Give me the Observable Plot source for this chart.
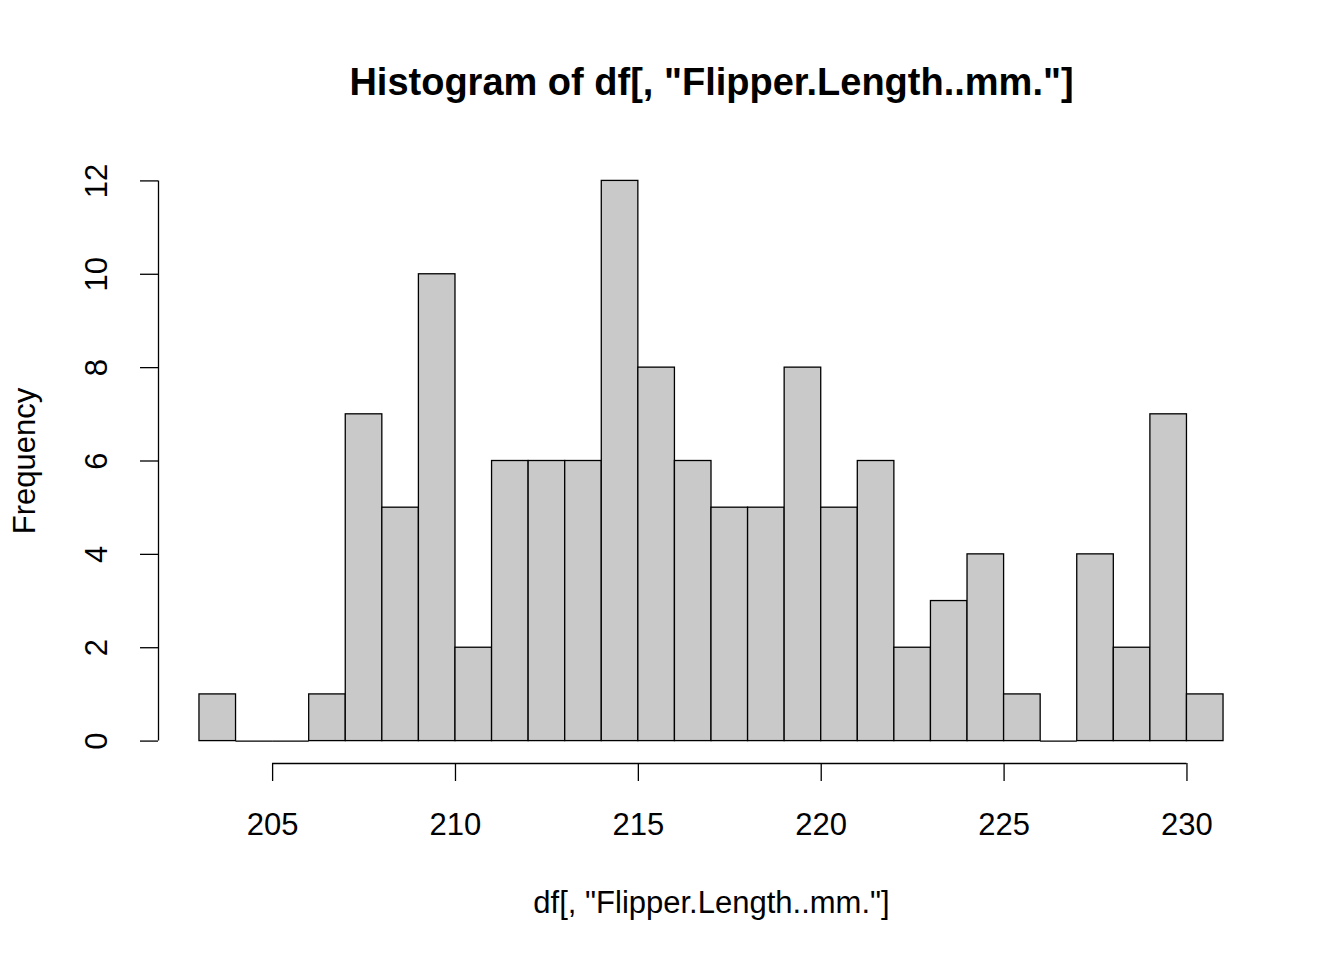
<!DOCTYPE html>
<html><head><meta charset="utf-8">
<script src="https://cdn.jsdelivr.net/npm/d3@7"></script>
<script src="https://cdn.jsdelivr.net/npm/@observablehq/plot@0.6"></script>
<style>body{margin:0;background:#fff}</style>
</head><body><div id="chart"></div>
<script>
const binStart = d3.range(203, 231);
const counts = [1,0,0,1,7,5,10,2,6,6,6,12,8,6,5,5,8,5,6,2,3,4,1,0,4,2,7,1];
const xTicks = [205,210,215,220,225,230];
const yTicks = [0,2,4,6,8,10,12];

const bins = binStart.map((s, i) => ({x1: s, x2: s + 1, n: counts[i]}));
const x0 = 201.88, y0 = -0.48;
const font = "Liberation Sans, Arial, Helvetica, sans-serif";

const chart = Plot.plot({
  width: 1344, height: 960,
  marginLeft: 158, marginRight: 80, marginTop: 158, marginBottom: 197,
  x: {domain: [x0, 232.12], axis: null},
  y: {domain: [y0, 12.48], axis: null},
  style: {fontFamily: font, background: "#fff"},
  marks: [
    Plot.rectY(bins, {x1: "x1", x2: "x2", y1: 0, y2: "n", fill: "#c9c9c9", stroke: "black", strokeWidth: 1.3}),
    // empty bins drawn as flat line
    Plot.ruleY(bins.filter(d => d.n === 0), {x1: "x1", x2: "x2", y: 0, stroke: "black", strokeWidth: 1.3}),
    // x axis
    Plot.ruleY([y0], {x1: 205, x2: 230, stroke: "black", strokeWidth: 1.3}),
    Plot.ruleX(xTicks, {y1: y0, y2: y0 - 18 / 46.75, stroke: "black", strokeWidth: 1.3}),
    Plot.text(xTicks, {x: d => d, y: y0, dy: 62, text: d => String(d), fontSize: 31, fill: "black"}),
    // y axis
    Plot.ruleX([x0], {y1: 0, y2: 12, stroke: "black", strokeWidth: 1.3}),
    Plot.ruleY(yTicks, {x1: x0, x2: x0 - 18 / 36.56, stroke: "black", strokeWidth: 1.3}),
    Plot.text(yTicks, {x: x0, y: d => d, dx: -61, rotate: -90, text: d => String(d), fontSize: 31, fill: "black"}),
    // labels
    Plot.text(["Frequency"], {x: x0, y: 6, dx: -133, rotate: -90, fontSize: 31, fill: "black"}),
    Plot.text(['df[, "Flipper.Length..mm."]'], {x: 217, y: y0, dy: 140, fontSize: 31, fill: "black"}),
    Plot.text(['Histogram of df[, "Flipper.Length..mm."]'], {x: 217, y: 12.48, dy: -76, fontSize: 38, fontWeight: "bold", fill: "black"})
  ]
});
document.getElementById("chart").append(chart);
</script>
</body></html>
